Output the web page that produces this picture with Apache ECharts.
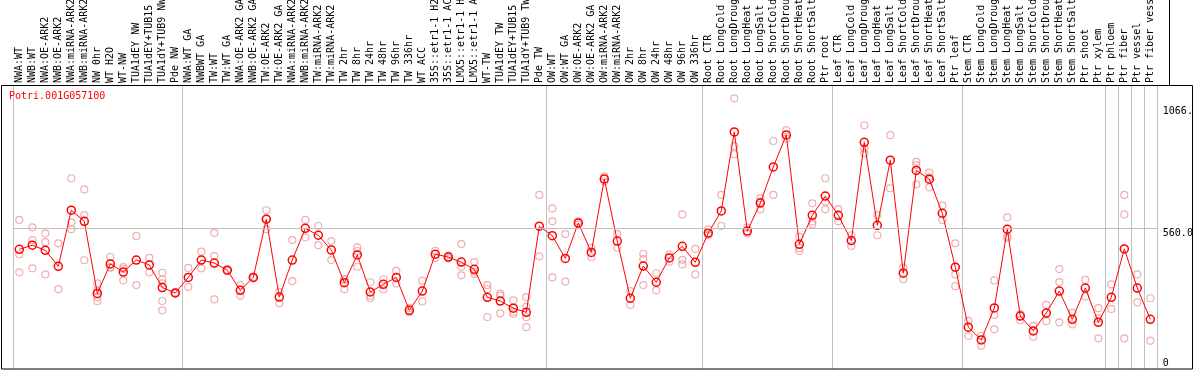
<!DOCTYPE html>
<html><head><meta charset="utf-8">
<script src="https://cdn.jsdelivr.net/npm/echarts@6/dist/echarts.min.js"></script>
<style>html,body{margin:0;padding:0;background:#fff}#c{width:1194px;height:370px}</style>
</head><body><div id="c"></div>
<script>
const geneTitle = 'Potri.001G057100';
const categories = [
 'NWA:WT','NWB:WT','NWA:OE-ARK2','NWB:OE-ARK2','NWA:miRNA-ARK2','NWB:miRNA-ARK2','NW 0hr','WT H2O','WT-NW','TUA1dEY NW','TUA1dEY+TUB15 NW','TUA1dY+TUB9 NW','Pde NW',
 'NWA:WT GA','NWBWT GA','TW:WT','TW:WT GA','NWA:OE-ARK2 GA','NWB:OE-ARK2 GA','TW:OE-ARK2','TW:OE-ARK2 GA','NWA:miRNA-ARK2','NWB:miRNA-ARK2','TW:miRNA-ARK2','TW:miRNA-ARK2',
 'TW 2hr','TW 8hr','TW 24hr','TW 48hr','TW 96hr','TW 336hr','WT ACC','35S::etr1-1 H2O','35S::etr1-1 ACC','LMX5::etr1-1 H2O','LMX5::etr1-1 ACC','WT-TW','TUA1dEY TW','TUA1dEY+TUB15 TW','TUA1dY+TUB9 TW','Pde TW',
 'OW:WT','OW:WT GA','OW:OE-ARK2','OW:OE-ARK2 GA','OW:miRNA-ARK2','OW:miRNA-ARK2','OW 2hr','OW 8hr','OW 24hr','OW 48hr','OW 96hr','OW 336hr',
 'Root CTR','Root LongCold','Root LongDrought','Root LongHeat','Root LongSalt','Root ShortCold','Root ShortDrought','Root ShortHeat','Root ShortSalt','Ptr root',
 'Leaf CTR','Leaf LongCold','Leaf LongDrought','Leaf LongHeat','Leaf LongSalt','Leaf ShortCold','Leaf ShortDrought','Leaf ShortHeat','Leaf ShortSalt','Ptr leaf',
 'Stem CTR','Stem LongCold','Stem LongDrought','Stem LongHeat','Stem LongSalt','Stem ShortCold','Stem ShortDrought','Stem ShortHeat','Stem ShortSalt','Ptr shoot','Ptr xylem',
 'Ptr phloem','Ptr fiber','Ptr vessel','Ptr fiber vessel'
];
const groupSizes = [13, 28, 12, 10, 10, 11, 1, 1, 1, 1];
const means = [
 469,487,465,396,638,590,279,406,371,423,402,304,281,
 348,423,410,379,292,348,599,263,423,560,530,466,325,445,285,318,348,206,289,448,436,414,383,262,246,215,197,569,
 528,430,583,456,773,505,258,397,327,432,482,413,
 540,635,976,548,669,825,963,491,616,699,
 616,507,931,573,854,366,810,772,625,392,
 133,78,216,556,181,117,194,289,167,302,154,
 262,471,302,167
];
const replicates = [
 [596,448,370],[564,509,387],[538,500,361],[495,297],[776,586,556],[728,617,422],[322,290,262,245],[436,392,390],[393,385,335],[527,315],[432,370],[368,340,322,246,206],[283,279],
 [389,307],[459,387],[540,440,253],[382,376],[315,269],[350,346],[638,603,556],[286,236],[509,332],[596,521],[570,487],[505,423],[340,297,338],[478,462,394],[327,268,258],[340,296],[376,322],[215,197],[334,244],[463,432],[443,430],[492,394,357],[414,373,363],[315,298,177],[278,269,193],[249,200,191],[263,222,176,133],[704,439],
 [646,590,348],[535,330],[590,576],[476,435],[784,762],[535,476],[289,229],[450,427,315],[366,292],[446,416],[620,424,404],[471,361],
 [555,530,535],[704,570],[1121,915,880],[563,537],[690,642,675],[937,704],[984,948],[524,474,462],[668,589,577],[776,675,642],
 [643,590],[530,484],[1005,905,884],[617,530],[962,733],[390,340],[847,833,750],[800,737,779],[658,596],[495,361,310],
 [160,95],[96,53],[335,186,124],[607,524,517],[189,163],[139,92],[229,159],[384,328,154],[196,145],[337,266],[215,171,85],
 [318,212],[704,620,85],[361,240],[258,75]
];
const yTickValues = [0, 560, 1066];
const yTickLabels = ['0', '560.0', '1066.'];

const groupStarts = [];
{ let s = 0; groupSizes.forEach(n => { groupStarts.push(s); s += n; }); }
const isBoundary = (idx) => groupStarts.indexOf(idx) >= 0;

const repPoints = [];
replicates.forEach((arr, i) => arr.forEach(v => repPoints.push([i, v])));

const FONT = 'DejaVu Sans Mono';
const chart = echarts.init(document.getElementById('c'), null, {renderer: 'canvas'});
chart.setOption({
  animation: false,
  textStyle: {fontFamily: FONT},
  title: {text: geneTitle, left: 9, top: 91, padding: 0,
    textStyle: {color: '#ff0000', fontFamily: FONT, fontSize: 10, fontWeight: 'normal'}},
  grid: {left: 12.8, right: 37.2, top: 85, bottom: 1, containLabel: false, outerBoundsMode: 'none'},
  xAxis: {
    type: 'category', data: categories, position: 'top', boundaryGap: true,
    axisLine: {show: false},
    axisTick: {show: true, interval: isBoundary, length: 85, lineStyle: {color: '#c0c0c0', width: 1}},
    splitLine: {show: true, interval: isBoundary, lineStyle: {color: '#c0c0c0', width: 1}},
    axisLabel: {interval: 0, rotate: 90, margin: 2, fontFamily: FONT, fontSize: 10, color: '#000', hideOverlap: false}
  },
  yAxis: {type: 'value', min: -47.5, max: 1178.7, show: false},
  series: [
    {
      type: 'scatter', data: repPoints, symbol: 'circle', symbolSize: 7, z: 2,
      itemStyle: {color: 'rgba(0,0,0,0)', borderColor: '#ee9a9a', borderWidth: 1.2},
      silent: true,
      markLine: {
        silent: true, symbol: 'none',
        data: yTickValues.map((v, i) => ({
          yAxis: v,
          lineStyle: {color: v === 560 ? '#c0c0c0' : 'rgba(0,0,0,0)', type: 'solid', width: 1},
          label: {show: true, position: 'end', distance: 6, color: '#000', fontFamily: FONT, fontSize: 10,
            align: 'left', verticalAlign: i === 2 ? 'middle' : 'top', formatter: yTickLabels[i]}
        }))
      }
    },
    {
      type: 'line', data: means, symbol: 'circle', symbolSize: 8, z: 3, silent: true,
      itemStyle: {color: 'rgba(0,0,0,0)', borderColor: '#ff0000', borderWidth: 1.5},
      lineStyle: {color: '#ff0000', width: 1}
    }
  ],
  graphic: [
    {type: 'rect', z: 100, silent: true, shape: {x: 1.5, y: 85.5, width: 1191, height: 283.5},
      style: {fill: 'none', stroke: '#000', lineWidth: 1}},
    {type: 'line', z: 100, silent: true, shape: {x1: 1169.5, y1: 0, x2: 1169.5, y2: 85},
      style: {stroke: '#000', lineWidth: 1}}
  ]
});
</script></body></html>
